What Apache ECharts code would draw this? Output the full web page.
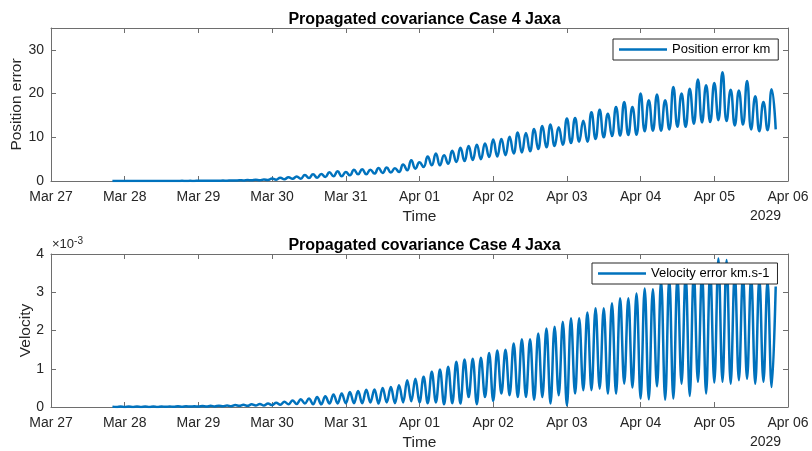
<!DOCTYPE html>
<html><head><meta charset="utf-8">
<script src="https://cdn.jsdelivr.net/npm/echarts@6/dist/echarts.min.js"></script>
<style>html,body{margin:0;padding:0;background:#fff}#c{width:812px;height:451px}</style>
</head><body><div id="c"></div>
<script>
// ---------------- DATA ----------------
const tickLabels = ['Mar 27','Mar 28','Mar 29','Mar 30','Mar 31','Apr 01','Apr 02','Apr 03','Apr 04','Apr 05','Apr 06'];
const axisStartUTC = [2029, 2, 27];          // Mar 27 2029
const axisDays = 10;
const sampleStartUTC = [2029, 2, 27, 20, 0]; // first sample Mar 27 20:00
const sampleStepMinutes = 80;                // samples alternate trough / peak

// Position error (km): troughs at even samples, peaks at odd samples
const posTroughs = [0,0,0,0,0,0.01,0.01,0.01,0.01,0.01,0.02,
  0.03,0.04,0.05,0.07,0.09,0.12,0.15,0.19,0.24,
  0.3,0.4,0.5,
  0.54,0.69,0.77,0.92,1.08,1.08,1.3,1.53,1.53,1.69,1.84,1.92,2.07,2.45,2.83,3.21,3.59,3.59,3.97,4.35,
  4.55,
  4.8,5.0,5.5,5.6,5.9,6.3,6.5,6.8,7.3,7.7,8.0,8.3,8.7,9.0,9.0,9.6,10.0,10.3,10.4,10.5,
  10.6,11.4,11.5,11.5,11.8,12.4,12.4,13.1,13.4,13.5,13.9,13.7,12.7,12.9,11.8,11.4,11.6,11.8];
const posPeaks = [0.01,0.01,0.01,0.01,0.02,0.02,0.02,0.02,0.03,0.03,
  0.05,0.06,0.08,0.10,0.13,0.17,0.22,0.28,0.35,
  0.55,0.75,0.85,1.05,
  1.38,1.53,1.61,2.0,2.22,2.07,2.6,2.68,2.6,2.98,3.06,2.9,3.75,4.74,4.28,5.6,6.3,5.9,6.9,7.6,
  8.0,8.3,8.6,9.5,9.6,10.1,11.1,11.0,11.9,12.6,12.9,12.3,14.3,14.4,13.8,15.7,16.3,15.4,16.9,18.1,16.9,
  20.0,18.5,19.8,18.5,21.5,20.0,21.1,23.2,21.9,22.4,24.9,20.9,20.7,22.9,19.4,18.1,21.0];

// Velocity error (x1e-3 km/s): peaks at even samples, minima at odd samples
const velPeaks = [0.01,0.01,0.01,0.01,0.01,0.01,0.015,0.015,0.02,0.02,0.02,
  0.025,0.03,0.035,0.04,0.05,0.06,0.07,0.08,0.09,
  0.11,0.14,0.17,
  0.20,0.22,0.26,0.28,0.33,0.35,0.39,0.42,0.45,0.46,0.50,0.52,0.57,0.70,0.74,0.79,0.92,0.98,1.05,1.18,1.24,
  1.26,
  1.29,1.41,1.48,1.50,1.66,1.77,1.77,1.92,2.05,2.10,2.23,2.32,2.32,2.47,2.58,2.58,2.71,2.84,2.84,2.97,3.10,3.08,
  3.3,3.35,3.4,3.45,3.5,3.5,3.55,3.88,3.84,3.5,3.45,3.4,3.35,3.3,3.15];
const velMins = [0,0,0,0,0,0,0.005,0.005,0.005,0.01,
  0.01,0.01,0.015,0.02,0.02,0.03,0.03,0.04,0.04,
  0.05,0.06,0.07,0.08,
  0.09,0.07,0.07,0.09,0.09,0.10,0.10,0.10,0.12,0.09,0.12,0.10,0.12,0.15,0.12,0.10,0.12,0.07,0.10,0.09,
  0.26,0.07,0.26,0.16,0.35,0.31,0.26,0.26,0.19,0.26,0.09,0.31,0.04,0.35,0.44,0.44,0.48,0.35,0.35,0.61,
  0.51,0.22,0.20,0.54,0.19,0.22,0.61,0.29,0.66,0.35,0.64,0.66,0.61,0.70,0.74,0.61,0.66,0.52];

// ---------------- BUILD ----------------
const DAY = 86400000;
const X0 = Date.UTC(...axisStartUTC);
const X1 = X0 + axisDays * DAY;
const T0 = Date.UTC(...sampleStartUTC);
function interleave(evenArr, oddArr) {
  const out = [];
  const n = evenArr.length + oddArr.length;
  for (let i = 0; i < n; i++) {
    const v = (i % 2 === 0) ? evenArr[i / 2] : oddArr[(i - 1) / 2];
    out.push([T0 + i * sampleStepMinutes * 60000, v]);
  }
  return out;
}
const posData = interleave(posTroughs, posPeaks);
const velData = interleave(velPeaks, velMins);

const FONT = 'Liberation Sans, Arial, Helvetica, sans-serif';
const AX = '#6e6e6e', TXT = '#262626', BLUE = '#0072BD';
const fmtX = v => tickLabels[Math.round((v - X0) / DAY)] || '';

function xAx(grid, pos) {
  const main = pos === 'bottom';
  return {
    gridIndex: grid, type: 'value', position: pos, min: X0, max: X1, interval: DAY,
    axisLine: { show: true, onZero: false, lineStyle: { color: AX, width: 1 } },
    axisTick: { show: true, inside: true, length: 5, lineStyle: { color: AX } },
    axisLabel: { show: main, formatter: fmtX, fontSize: 14, color: TXT, fontFamily: FONT, margin: 9 },
    splitLine: { show: false },
    name: main ? 'Time' : '', nameLocation: 'middle', nameGap: 28, nameMoveOverlap: false,
    nameTextStyle: { fontSize: 15.5, color: TXT, fontFamily: FONT }
  };
}
function yAx(grid, pos, max, name, gap) {
  const main = pos === 'left';
  return {
    gridIndex: grid, type: 'value', position: pos, min: 0, max: max, interval: grid === 0 ? 10 : 1,
    axisLine: { show: true, lineStyle: { color: AX, width: 1 } },
    axisTick: { show: true, inside: true, length: 5, lineStyle: { color: AX } },
    axisLabel: { show: main, fontSize: 14, color: TXT, fontFamily: FONT, margin: 7,
      formatter: v => (grid === 0 && v % 10 !== 0) ? '' : String(v) },
    splitLine: { show: false },
    name: main ? name : '', nameLocation: 'middle', nameGap: gap, nameRotate: 90, nameMoveOverlap: false,
    nameTextStyle: { fontSize: 15.5, color: TXT, fontFamily: FONT }
  };
}
const legendBase = {
  orient: 'horizontal', backgroundColor: '#fff', borderColor: '#262626', borderWidth: 1,
  borderRadius: 0, padding: [4, 8, 4, 6], itemWidth: 48, itemHeight: 2.5, itemGap: 4, icon: 'rect',
  textStyle: { fontSize: 13, color: '#000', fontFamily: FONT }
};

const chart = echarts.init(document.getElementById('c'), null, { renderer: 'canvas' });
chart.setOption({
  animation: false,
  backgroundColor: '#fff',
  title: [
    { text: 'Propagated covariance Case 4 Jaxa', left: 419.5, top: 7, textAlign: 'center',
      textStyle: { fontSize: 16, fontWeight: 'bold', color: '#000', fontFamily: FONT } },
    { text: 'Propagated covariance Case 4 Jaxa', left: 419.5, top: 233, textAlign: 'center',
      textStyle: { fontSize: 16, fontWeight: 'bold', color: '#000', fontFamily: FONT } }
  ],
  grid: [
    { left: 51, right: 24, top: 28, height: 153, containLabel: false, outerBoundsMode: 'none' },
    { left: 51, right: 24, top: 254, height: 153, containLabel: false, outerBoundsMode: 'none' }
  ],
  xAxis: [xAx(0, 'bottom'), xAx(0, 'top'), xAx(1, 'bottom'), xAx(1, 'top')],
  yAxis: [yAx(0, 'left', 35, 'Position error', 26), yAx(0, 'right', 35, ''),
          yAx(1, 'left', 4, 'Velocity', 17), yAx(1, 'right', 4, '')],
  legend: [
    Object.assign({}, legendBase, { data: ['Position error km'], left: 613, top: 39 }),
    Object.assign({}, legendBase, { data: ['Velocity error km.s-1'], left: 592, top: 263 })
  ],
  graphic: [
    { type: 'text', left: 750, top: 209, style: { text: '2029', fontSize: 14, fill: TXT, fontFamily: FONT } },
    { type: 'text', left: 750, top: 435, style: { text: '2029', fontSize: 14, fill: TXT, fontFamily: FONT } },
    { type: 'text', left: 52, top: 236, style: {
        rich: { b: { fontSize: 13, fill: TXT, fontFamily: FONT }, s: { fontSize: 10, fill: TXT, fontFamily: FONT, verticalAlign: 'top', padding: [0, 0, 6, 0] } },
        text: '{b|\u00d710}{s|-3}' } }
  ],
  series: [
    { name: 'Position error km', type: 'line', xAxisIndex: 0, yAxisIndex: 0, data: posData,
      symbol: 'none', smooth: 0.5, lineStyle: { color: BLUE, width: 2.5 }, itemStyle: { color: BLUE } },
    { name: 'Velocity error km.s-1', type: 'line', xAxisIndex: 2, yAxisIndex: 2, data: velData,
      symbol: 'none', smooth: 0.4, lineStyle: { color: BLUE, width: 2.5 }, itemStyle: { color: BLUE } }
  ]
});
</script>
</body></html>
